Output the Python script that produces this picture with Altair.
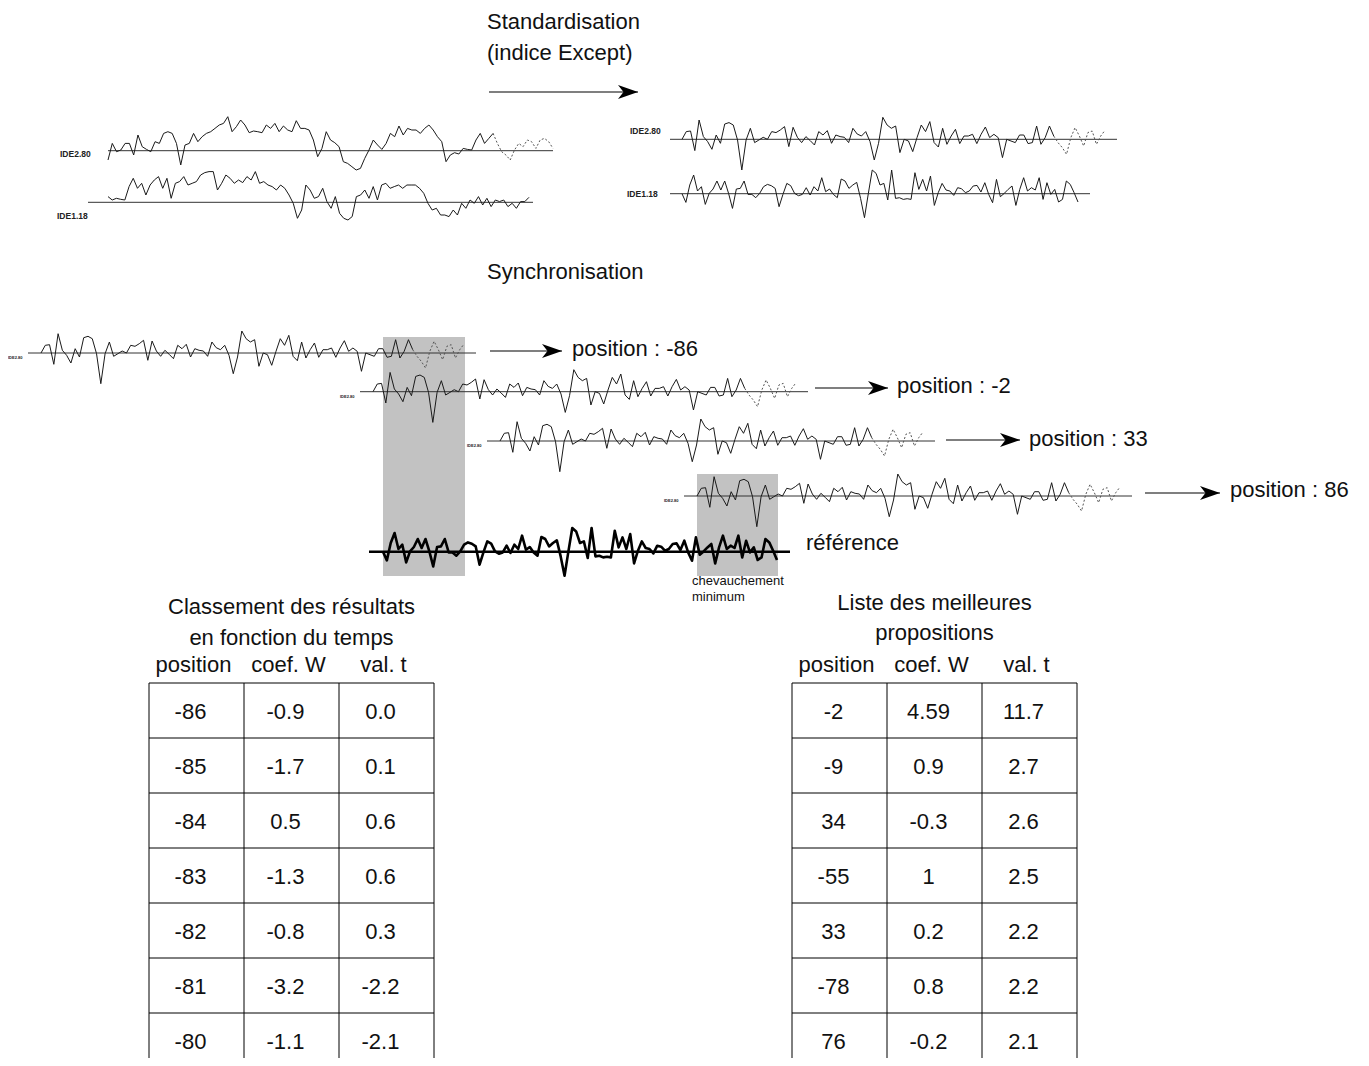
import altair as alt
import pandas as pd

# ---------------- data ----------------
# raw ring-width series, relative to their mean line (px-like units, up = positive)
raw_ide280 = [-9.3, 7.3, -1, 0.7, 7.3, 7.3, -4.3, 15.7, 4, 1.3,
              -1, 9, 7.3, 17.3, 19, 17.3, 7.3, -14.3, 5.7, 7.3,
              17.3, 9, 14, 17.3, 19, 22.3, 25.7, 27.3, 34, 19,
              24, 30.7, 25.7, 18, 19.7, 19, 18, 25.7, 22.3, 27.3,
              19, 24.7, 20.7, 19, 30, 22.3, 22.3, 20.7, 10.7, -6,
              2.3, 19, 10.7, 8, 4, -11, -12.7, -16, -19.3, -17.7,
              -7.7, 0.7, 10.7, 5.7, 1.3, 7.3, 17.3, 14, 24.7, 15.7,
              22.3, 20.7, 20.7, 17.3, 22.3, 25.7, 20.7, 14, 9, -11,
              -4.3, -2, -3.3, 2.3, 1.3, 0.7, 10.7, 17.3, 7.3, 12.3,
              17.3,
              7.3, -1, -4.3, -9.3, 0.7, 7.3, 4, 10.7, 9, 2.3, 10.7, 12.3, 9, 2.3]
raw_ide280_solid = 91

raw_ide118 = [5.7, 2.3, 4, 3, 2.3, 15.7, 24, 14, 19, 7.3,
              17.3, 22.3, 25.7, 14, 24, 4, 19, 20.7, 25.7, 17.3,
              19, 20.7, 27.3, 29.7, 30.7, 30.7, 12.3, 19, 27.3, 24,
              19, 22.3, 19.7, 25.7, 22.3, 30.7, 19, 20.7, 17.3, 15.7,
              12.3, 17.3, 14, 7.3, -1, -16, -7.7, 17.3, 12.3, 4,
              5.7, 14, 0.7, -6, 5.7, -11, -16, -17.7, -14.3, 5.7,
              7.3, 12.3, 4, 15.7, 2.3, 17.3, 19, 14, 15.7, 17.3,
              14, 17.3, 17.3, 17.3, 14, 9, -1, -7.7, -6, -12.7,
              -12.7, -14.3, -7.7, -12.7, -1, -6, 2.3, -1, 5.7, -2.7,
              4, -4.3, 2.3, 0.7, 2.3, -4.3, -1, -6, 0.7, 0.7,
              5]

# standardised series (indice Except)
std_ide280 = [0, 7.7, 8.3, -11.3, 19.3, 2.7, -2.3, -10, 4.3, -4,
              15.3, 16.7, 14.3, -0.7, -30.7, -0.7, 11, -3.3, -0.7, 2,
              0, 7.7, 6.7, 9.3, 12.7, -7.3, 12, 2, -3.3, 2.7,
              -1.3, -5.7, 7.7, 4.3, 8.7, -4, 4.3, 2.7, 2, -3.3,
              11, 5.3, 3.3, 7.7, -2.3, -20.7, -4, 22, 14.3, 11,
              13.3, -13.3,
              0, -1.7, -12.3, 1.7, 14.3, 7.7, 17.7, -3.3, -7.7, 11,
              -5, 3.3, 10, -4.3, 3.3, 3.3, 5, -4.3, 5, 12.3,
              1.7, 5, 1.7, -18.3, 0, -1.7, -3.3, 4.3, 4.3, -4.3,
              -3.3, 13.3, -5, 1.7, 13.3, 3.3,
              -3.3, -8.3, -15, 1.7, 11.7, 3.3, -6.7, 6.7, 8.3, -5, 3.3, 9]
std_ide280_solid = 88

std_ide118 = [0, -8.7, 8.7, 18.7, 2.7, 7, -10.7, 0.3, 4.7, 12.7,
              3.7, 12.7, 0.3, -14.7, 4.7, 5.3, 12.7, -0.7, -0.7, -4,
              0.3, 7, 9.3, 8, 5.3, -13, -0.7, 10.3, 8, 0.3,
              -2, -0.7, 6, -1.3, 7, 2.7, 16, 2, 4.7, -0.7,
              -4, 14.7, 12.7, 5.3, 8.7, 11.3, -4.7, -24, 0.3, 23.7,
              20.3, 8.7, 10.3, -6.3, 23.7, -4.7,
              -4, -5.7, -5, -5.7, 21, 4.3, 14.3, 2.7, 17.7, -11.7,
              1, 10.3, 3.7, 2.7, -1.7, 6, 5, 1, 2.7, 7.7,
              8.3, 1.7, 11, -0.7, -9, 14.3, -3, 0.3, 4.3, 7.7,
              -11.7, 4.3, 16, 2.7, 6, 3.7, 16, -5.7, 11, -0.7,
              4.3, -8.3, -5.7, 12.7, 9.3, 1, -8.3]

series_names = ["IDE2.80", "IDE1.18"]
sync_positions = [-86, -2, 33, 86]

left_title = ["Classement des résultats", "en fonction du temps"]
right_title = ["Liste des meilleures", "propositions"]
table_headers = ["position", "coef. W", "val. t"]
left_position = ["-86", "-85", "-84", "-83", "-82", "-81", "-80"]
left_coef_w = ["-0.9", "-1.7", "0.5", "-1.3", "-0.8", "-3.2", "-1.1"]
left_val_t = ["0.0", "0.1", "0.6", "0.6", "0.3", "-2.2", "-2.1"]
right_position = ["-2", "-9", "34", "-55", "33", "-78", "76"]
right_coef_w = ["4.59", "0.9", "-0.3", "1", "0.2", "0.8", "-0.2"]
right_val_t = ["11.7", "2.7", "2.6", "2.5", "2.2", "2.2", "2.1"]

# ---------------- layout ----------------
W, H = 1353, 1050
XD = [8, 8 + W]
YD = [8, 8 + H]
FONT = "Liberation Sans"

def X(f="x"):
    return alt.X(f"{f}:Q", scale=alt.Scale(domain=XD, nice=False, zero=False), axis=None)

def Y(f="y"):
    return alt.Y(f"{f}:Q", scale=alt.Scale(domain=YD, nice=False, zero=False, reverse=True), axis=None)

sync_x = [41, 373, 500, 697]
sync_y = [353, 391.7, 441, 496]
SPAN280 = 423

placements = [
    ("raw280", raw_ide280, raw_ide280_solid, 108, 445, 150.7, "thin"),
    ("raw118", raw_ide118, len(raw_ide118), 108, 421, 202.3, "thin"),
    ("std280", std_ide280, std_ide280_solid, 682, SPAN280, 139.3, "thin"),
    ("std118", std_ide118, len(std_ide118), 682, 396, 193.7, "thin"),
]
for k, (sx, sy) in enumerate(zip(sync_x, sync_y)):
    placements.append((f"sync{k}", std_ide280, std_ide280_solid, sx, SPAN280, sy, "thin"))
placements.append(("ref", std_ide118, len(std_ide118), 383, 394, 551.7, "thick"))

rows = []
for name, vals, nsolid, x0, span, yb, style in placements:
    n = len(vals)
    for i, v in enumerate(vals):
        x = x0 + i * span / (n - 1)
        y = yb - v
        if i < nsolid:
            rows.append(dict(seg=name + "_s", i=i, x=x, y=y, kind=style))
        if i >= nsolid - 1 and nsolid < n:
            rows.append(dict(seg=name + "_d", i=i, x=x, y=y, kind="dot"))
lines = pd.DataFrame(rows)

base_rows = [
    dict(x=108, x2=553, y=150.7),
    dict(x=88, x2=533, y=202.3),
    dict(x=670, x2=1117, y=139.3),
    dict(x=670, x2=1090, y=193.7),
]
for sx, sy in zip(sync_x, sync_y):
    base_rows.append(dict(x=sx - 13, x2=sx + SPAN280 + 12, y=sy))
baselines = pd.DataFrame(base_rows)
ref_base = pd.DataFrame([dict(x=369, x2=790, y=551.7)])

boxes = pd.DataFrame([dict(x=383, x2=465, y=337, y2=576),
                      dict(x=697, x2=778, y=474, y2=576)])

arrow_rows = [dict(x=489, x2=638, y=92)]
arrow_rows += [dict(x=a, x2=b, y=y) for a, b, y in
               [(490, 562, 351), (815, 888, 388), (946, 1020, 440), (1145, 1220, 493)]]
arrows = pd.DataFrame(arrow_rows)
arrows["xc"] = arrows["x2"] - 10

# texts
big_left = [dict(x=487, y=22, t="Standardisation"),
            dict(x=487, y=53, t="(indice Except)"),
            dict(x=487, y=272, t="Synchronisation"),
            dict(x=806, y=543, t="référence")]
for (px, py), p in zip([(572, 349), (897, 386), (1029, 439), (1230, 490)], sync_positions):
    big_left.append(dict(x=px, y=py, t=f"position : {p}"))
big_left = pd.DataFrame(big_left)

small_left = pd.DataFrame([dict(x=692, y=581, t="chevauchement"),
                           dict(x=692, y=597, t="minimum")])

tiny_labels = pd.DataFrame([dict(x=60, y=154, t=series_names[0]),
                            dict(x=57, y=216, t=series_names[1]),
                            dict(x=630, y=131, t=series_names[0]),
                            dict(x=627, y=194, t=series_names[1])])
micro_labels = pd.DataFrame([dict(x=sx - 33, y=sy + 5, t=series_names[0])
                             for sx, sy in zip(sync_x, sync_y)])

# tables
ROW0, ROWH, NROWS = 683, 55, 7
tables = [
    (149, left_title, [left_position, left_coef_w, left_val_t], [607, 638]),
    (792, right_title, [right_position, right_coef_w, right_val_t], [603, 633]),
]
COLW = 95
center_txt = []
vrules, hrules = [], []
for tx, title, cols, ty in tables:
    cx_tab = tx + 1.5 * COLW
    for line, yy in zip(title, ty):
        center_txt.append(dict(x=cx_tab, y=yy, t=line))
    for c, h in enumerate(table_headers):
        center_txt.append(dict(x=tx + c * COLW + COLW / 2 - 3, y=665, t=h))
    for c, col in enumerate(cols):
        for r, val in enumerate(col):
            center_txt.append(dict(x=tx + c * COLW + COLW / 2 - 6,
                                   y=ROW0 + r * ROWH + ROWH / 2 + 1, t=val))
    for c in range(4):
        vrules.append(dict(x=tx + c * COLW, y=ROW0, y2=YD[1]))
    for r in range(NROWS):
        hrules.append(dict(x=tx, x2=tx + 3 * COLW, y=ROW0 + r * ROWH))
center_txt = pd.DataFrame(center_txt)
vrules = pd.DataFrame(vrules)
hrules = pd.DataFrame(hrules)

# ---------------- layers ----------------
L = []
L.append(alt.Chart(boxes).mark_rect(color="#c2c2c2").encode(
    x=X(), x2="x2:Q", y=Y(), y2="y2:Q"))
L.append(alt.Chart(baselines).mark_rule(color="#333333", strokeWidth=1).encode(
    x=X(), x2="x2:Q", y=Y()))
L.append(alt.Chart(ref_base).mark_rule(color="#000000", strokeWidth=2.5).encode(
    x=X(), x2="x2:Q", y=Y()))
L.append(alt.Chart(lines[lines.kind == "thin"]).mark_line(
    color="#1a1a1a", strokeWidth=1).encode(
    x=X(), y=Y(), detail="seg:N", order="i:Q"))
L.append(alt.Chart(lines[lines.kind == "dot"]).mark_line(
    color="#555555", strokeWidth=1, strokeDash=[2, 2]).encode(
    x=X(), y=Y(), detail="seg:N", order="i:Q"))
L.append(alt.Chart(lines[lines.kind == "thick"]).mark_line(
    color="#000000", strokeWidth=2.6, strokeJoin="round").encode(
    x=X(), y=Y(), detail="seg:N", order="i:Q"))
L.append(alt.Chart(arrows).mark_rule(color="#000000", strokeWidth=1.2).encode(
    x=X(), x2="x2:Q", y=Y()))
L.append(alt.Chart(arrows).mark_point(
    shape="M1,0 L-1,-0.7 L-0.45,0 L-1,0.7 Z", filled=True, color="#000000",
    size=400, opacity=1).encode(x=X("xc"), y=Y()))
L.append(alt.Chart(vrules).mark_rule(color="#000000", strokeWidth=1).encode(
    x=X(), y=Y(), y2="y2:Q"))
L.append(alt.Chart(hrules).mark_rule(color="#000000", strokeWidth=1).encode(
    x=X(), x2="x2:Q", y=Y()))
L.append(alt.Chart(big_left).mark_text(
    align="left", baseline="middle", font=FONT, fontSize=22, color="#111111").encode(
    x=X(), y=Y(), text="t:N"))
L.append(alt.Chart(center_txt).mark_text(
    align="center", baseline="middle", font=FONT, fontSize=22, color="#111111").encode(
    x=X(), y=Y(), text="t:N"))
L.append(alt.Chart(small_left).mark_text(
    align="left", baseline="middle", font=FONT, fontSize=13, color="#111111").encode(
    x=X(), y=Y(), text="t:N"))
L.append(alt.Chart(tiny_labels).mark_text(
    align="left", baseline="middle", font=FONT, fontSize=8.5, fontWeight="bold",
    color="#222222").encode(x=X(), y=Y(), text="t:N"))
L.append(alt.Chart(micro_labels).mark_text(
    align="left", baseline="middle", font=FONT, fontSize=4, fontWeight="bold",
    color="#222222").encode(x=X(), y=Y(), text="t:N"))

chart = alt.layer(*L).properties(
    width=W, height=H, padding=0, autosize="none"
).configure(background="white", view=alt.ViewConfig(stroke=None))

chart.save("out.html", embed_options={"renderer": "svg", "actions": False})
